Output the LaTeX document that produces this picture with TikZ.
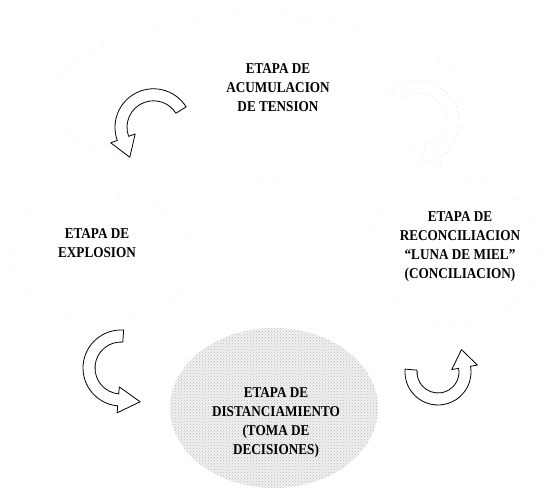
\documentclass[tikz,border=0pt]{standalone}
\usepackage{fontspec}
\setmainfont[FakeStretch=0.88]{Liberation Serif}
\usetikzlibrary{patterns}

\tikzset{
	stage/.style={align=center,font=\fontsize{15}{19}\selectfont\bfseries},
	blockarrow/.style={draw=black,fill=white,line width=.8pt,line join=round},
	faintarrow/.style={draw=gray!40,line width=.6pt,dash pattern=on .6pt off 3.5pt},
	cloud/.style={draw=gray!28,line width=.6pt,dash pattern=on .6pt off 11pt}
}

% curved block arrow: style, centre x, centre y, radius, start, end, head length, turn (1 or -1)
\newcommand\ribbonarrow[8]{%
	\pgfmathsetmacro\rout{#4+6}%
	\pgfmathsetmacro\rin{#4-6}%
	\pgfmathsetmacro\hout{#4+13}%
	\pgfmathsetmacro\hin{#4-13}%
	\pgfmathsetmacro\tipx{#2+#4*cos(#6)+#7*cos(#6+90*#8)}%
	\pgfmathsetmacro\tipy{#3+#4*sin(#6)+#7*sin(#6+90*#8)}%
	\draw[#1] ([shift={(#5:\rout)}]#2,#3) arc[start angle=#5,end angle=#6,radius=\rout]
		-- ([shift={(#6:\hout)}]#2,#3) -- (\tipx,\tipy) -- ([shift={(#6:\hin)}]#2,#3)
		-- ([shift={(#6:\rin)}]#2,#3) arc[start angle=#6,end angle=#5,radius=\rin] -- cycle;}

\begin{document}
\begin{tikzpicture}[x=1pt,y=1pt]
	\useasboundingbox (0,0) rectangle (546,489);
	% faint clouds round the stages
	\draw[cloud] (258,391) ellipse[x radius=205,y radius=83];
	\draw[cloud] (100,231) ellipse[x radius=92,y radius=65];
	\draw[cloud] (455,239) ellipse[x radius=88,y radius=72];
	% stippled stage
	\fill[gray!12] (274,81) ellipse[x radius=104,y radius=80];
	\fill[pattern=crosshatch dots,pattern color=gray!55] (274,81) ellipse[x radius=104,y radius=80];

	\node[stage] (acumulacion) at (278,401) {ETAPA DE\\ACUMULACION\\DE TENSION};
	\node[stage] (explosion) at (97,246) {ETAPA DE\\EXPLOSION};
	\node[stage] (reconciliacion) at (460,242) {ETAPA DE\\RECONCILIACION\\“LUNA DE MIEL”\\(CONCILIACION)};
	\node[stage] (distanciamiento) at (276,66) {ETAPA DE\\DISTANCIAMIENTO\\(TOMA DE\\DECISIONES)};

	\ribbonarrow{blockarrow}{153.5}{361.7}{32.5}{32}{200}{20}{1}
	\ribbonarrow{blockarrow}{121}{121}{32}{86}{265}{22}{1}
	\ribbonarrow{blockarrow}{438}{117}{27}{-185}{10}{18}{1}
	\ribbonarrow{faintarrow}{418}{367}{35}{130}{-60}{18}{-1}
\end{tikzpicture}
\end{document}
